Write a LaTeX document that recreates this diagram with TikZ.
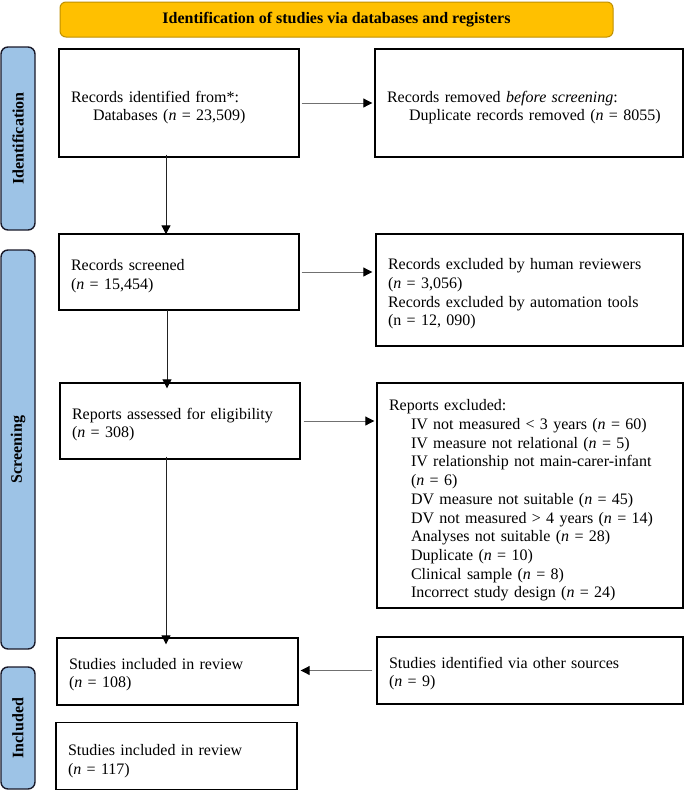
\documentclass[tikz,border=0pt]{standalone}
\usepackage{fontspec}
\setmainfont{Liberation Serif}
\usetikzlibrary{arrows.meta}
\definecolor{hdrfill}{HTML}{FFC000}
\definecolor{hdrdraw}{HTML}{BF9000}
\definecolor{sidefill}{HTML}{9DC3E6}
\definecolor{sidedraw}{HTML}{1A1A2A}
\definecolor{arrgray}{HTML}{707070}
\definecolor{arrdark}{HTML}{222222}
\begin{document}
\begin{tikzpicture}[x=1pt,y=-1pt,
  box/.style={draw=black, line width=1.4pt, inner sep=0pt},
  txt/.style={inner sep=0pt, align=left, font=\fontsize{16}{18.7}\selectfont},
  side/.style={draw=sidedraw, fill=sidefill, line width=1.4pt, rounded corners=7pt},
  sidelabel/.style={rotate=90, font=\bfseries\fontsize{16}{18}\selectfont},
  arr/.style={draw=arrgray, line width=1pt, -{Triangle[length=9pt,width=9pt,fill=black,color=black]}},
  varr/.style={arr, draw=arrdark}
]
\useasboundingbox (0,0) rectangle (685,793);
\fill[white] (0,0) rectangle (685,793);

% header
\node[draw=hdrdraw, fill=hdrfill, line width=1pt, rounded corners=6pt,
  minimum width=553pt, minimum height=35pt, inner sep=0pt,
  font=\bfseries\fontsize{16}{18}\selectfont] (hdr) at (336.5,19.5)
  {Identification of studies via databases and registers};

% side bars
\draw[side] (1,47) rectangle (35,230);
\node[sidelabel] (sl1) at (18,138.5) {Identification};
\draw[side] (1,250) rectangle (35,649);
\node[sidelabel] (sl2) at (18,449.5) {Screening};
\draw[side] (1,667) rectangle (35,789);
\node[sidelabel] (sl3) at (18,728) {Included};

% boxes
\node[box, minimum width=240pt, minimum height=108pt] (b1) at (179,103) {};
\node[txt, text width=216pt] (b1t) at ([yshift=-4.5pt]b1.center)
  {Records identified from*:\\\hspace*{22pt}Databases (\textit{n} = 23,509)};
\node[box, minimum width=308pt, minimum height=108pt] (b2) at (529,103) {};
\node[txt, text width=284pt] (b2t) at ([yshift=-4.5pt]b2.center)
  {Records removed \textit{before screening}:\\\hspace*{22pt}Duplicate records removed (\textit{n} = 8055)};
\node[box, minimum width=240pt, minimum height=76pt] (b3) at (179,272) {};
\node[txt, text width=216pt] (b3t) at ([yshift=-4pt]b3.center)
  {Records screened\\(\textit{n} = 15,454)};
\node[box, minimum width=307pt, minimum height=112pt] (b4) at (529.5,290) {};
\node[txt, text width=283pt] (b4t) at ([yshift=-4pt]b4.center)
  {Records excluded by human reviewers\\(\textit{n} = 3,056)\\Records excluded by automation tools\\(n = 12, 090)};
\node[box, minimum width=240pt, minimum height=76pt] (b5) at (180,421) {};
\node[txt, text width=216pt] (b5t) at ([yshift=-3.5pt]b5.center)
  {Reports assessed for eligibility\\(\textit{n} = 308)};
\node[box, minimum width=306pt, minimum height=225pt] (b6) at (530,495.5) {};
\node[txt, text width=282pt] (b6t) at ([yshift=-5pt]b6.center)
  {Reports excluded:\\
   \hspace*{22pt}IV not measured < 3 years (\textit{n} = 60)\\
   \hspace*{22pt}IV measure not relational (\textit{n} = 5)\\
   \hspace*{22pt}IV relationship not main-carer-infant\\
   \hspace*{22pt}(\textit{n} = 6)\\
   \hspace*{22pt}DV measure not suitable (\textit{n} = 45)\\
   \hspace*{22pt}DV not measured > 4 years (\textit{n} = 14)\\
   \hspace*{22pt}Analyses not suitable (\textit{n} = 28)\\
   \hspace*{22pt}Duplicate (\textit{n} = 10)\\
   \hspace*{22pt}Clinical sample (\textit{n} = 8)\\
   \hspace*{22pt}Incorrect study design (\textit{n} = 24)};
\node[box, minimum width=241pt, minimum height=67pt] (b7) at (177.5,671.5) {};
\node[txt, text width=217pt] (b7t) at ([yshift=-3pt]b7.center)
  {Studies included in review\\(\textit{n} = 108)};
\node[box, minimum width=306pt, minimum height=67pt] (b8) at (530,670.5) {};
\node[txt, text width=282pt] (b8t) at ([yshift=-3pt]b8.center)
  {Studies identified via other sources\\(\textit{n} = 9)};
\node[box, minimum width=241pt, minimum height=67pt] (b9) at (176.5,756) {};
\node[txt, text width=217pt] (b9t) at ([yshift=-5pt]b9.center)
  {Studies included in review\\(\textit{n} = 117)};

% arrows
\draw[arr] ([xshift=2pt]b1.east) -- ([xshift=-2pt]b2.west);
\draw[varr] ([shift={(-13pt,3pt)}]b1.south) -- ([xshift=-13pt,yshift=-1pt]b1.south |- b3.north);
\draw[arr] ([xshift=2pt]b3.east) -- ([xshift=-3pt]b3.east -| b4.west);
\draw[varr] ([shift={(-12pt,1pt)}]b3.south) -- ([xshift=-12pt,yshift=-6pt]b3.south |- b5.north);
\draw[arr] ([xshift=3pt]b5.east) -- ([xshift=-2pt]b5.east -| b6.west);
\draw[varr] ([shift={(-14pt,3pt)}]b5.south) -- ([xshift=-14pt,yshift=-7pt]b5.south |- b7.north);
\draw[arr] ([xshift=-4pt]b8.west) -- ([xshift=2pt]b8.west -| b7.east);
\end{tikzpicture}
\end{document}
